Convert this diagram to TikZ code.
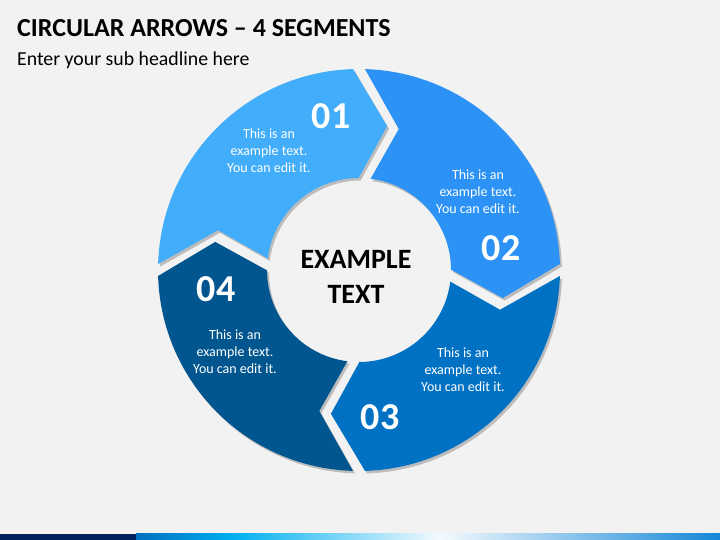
\documentclass[tikz,border=0pt]{standalone}
\usepackage{fontspec}
\setmainfont{Carlito}
\usepackage{xcolor}
\usepackage{tikz}
\usetikzlibrary{shadows}

\definecolor{bgGray}{HTML}{F2F2F2}
\definecolor{segOne}{HTML}{42AEFB}
\definecolor{segTwo}{HTML}{2C92F6}
\definecolor{segThree}{HTML}{0172C3}
\definecolor{segFour}{HTML}{02568F}
\definecolor{barNavy}{HTML}{002060}
\definecolor{barBlue}{HTML}{0070C0}
\definecolor{barCyan}{HTML}{00B0F0}
\definecolor{barPale}{HTML}{F4FAFE}
\definecolor{barEnd}{HTML}{1486D6}

\begin{document}
\begin{tikzpicture}[x=1pt, y=1pt,
    seg/.style={drop shadow={shadow xshift=2pt, shadow yshift=-2.5pt, opacity=0.22, fill=black}},
    num/.style={text=white, font=\bfseries\fontsize{38}{40}\selectfont},
    info/.style={text=white, align=center, font=\fontsize{14}{17}\selectfont}]

    % Fond
    \fill[bgGray] (0,0) rectangle (720,540);
    \useasboundingbox (0,0) rectangle (720,540);

    % Titres
    \node[anchor=base west, inner sep=0pt, font=\bfseries\fontsize{26}{30}\selectfont] (title) at (17,503) {CIRCULAR ARROWS -- 4 SEGMENTS};
    \node[anchor=base west, inner sep=0pt, font=\fontsize{19.8}{22}\selectfont] (subtitle) at (17,474) {Enter your sub headline here};

    % Segments
    \begin{scope}[shift={(359,270)}]
        \fill[segOne, seg] (178.29:201) arc[start angle=178.29, end angle=91.71, radius=201]
            -- (78.94:146.5) -- (90.24:92) arc[start angle=90.24, end angle=172.76, radius=92]
            -- (164.26:146.5) -- cycle;
        \fill[segTwo, seg] (88.29:201) arc[start angle=88.29, end angle=1.71, radius=201]
            -- (-11.06:146.5) -- (0.24:92) arc[start angle=0.24, end angle=82.76, radius=92]
            -- (74.26:146.5) -- cycle;
        \fill[segThree, seg] (-1.71:201) arc[start angle=-1.71, end angle=-88.29, radius=201]
            -- (-101.06:146.5) -- (-89.76:92) arc[start angle=-89.76, end angle=-7.24, radius=92]
            -- (-15.74:146.5) -- cycle;
        \fill[segFour, seg] (-91.71:201) arc[start angle=-91.71, end angle=-178.29, radius=201]
            -- (-191.06:146.5) -- (-179.76:92) arc[start angle=-179.76, end angle=-97.24, radius=92]
            -- (-105.74:146.5) -- cycle;
    \end{scope}

    % Numeros
    \node[num] (numA) at (331,424) {01};
    \node[num] (numB) at (501,292) {02};
    \node[num] (numC) at (380,123) {03};
    \node[num] (numD) at (216,251) {04};

    % Textes
    \node[info] (txtA) at (269,389) {This is an\\example text.\\You can edit it.};
    \node[info] (txtB) at (478,348) {This is an\\example text.\\You can edit it.};
    \node[info] (txtC) at (463,170) {This is an\\example text.\\You can edit it.};
    \node[info] (txtD) at (235,188) {This is an\\example text.\\You can edit it.};

    % Centre
    \node[align=center, font=\bfseries\fontsize{28}{35}\selectfont] (middle) at (356,263) {EXAMPLE\\TEXT};

    % Bande du bas
    \fill[barNavy] (0,0) rectangle (136,6);
    \shade[left color=barBlue, right color=barCyan] (136,0) rectangle (233.5,6);
    \shade[left color=barCyan, right color=barPale] (233,0) rectangle (440.5,6);
    \shade[left color=barPale, right color=barEnd] (440,0) rectangle (720,6);
\end{tikzpicture}
\end{document}
